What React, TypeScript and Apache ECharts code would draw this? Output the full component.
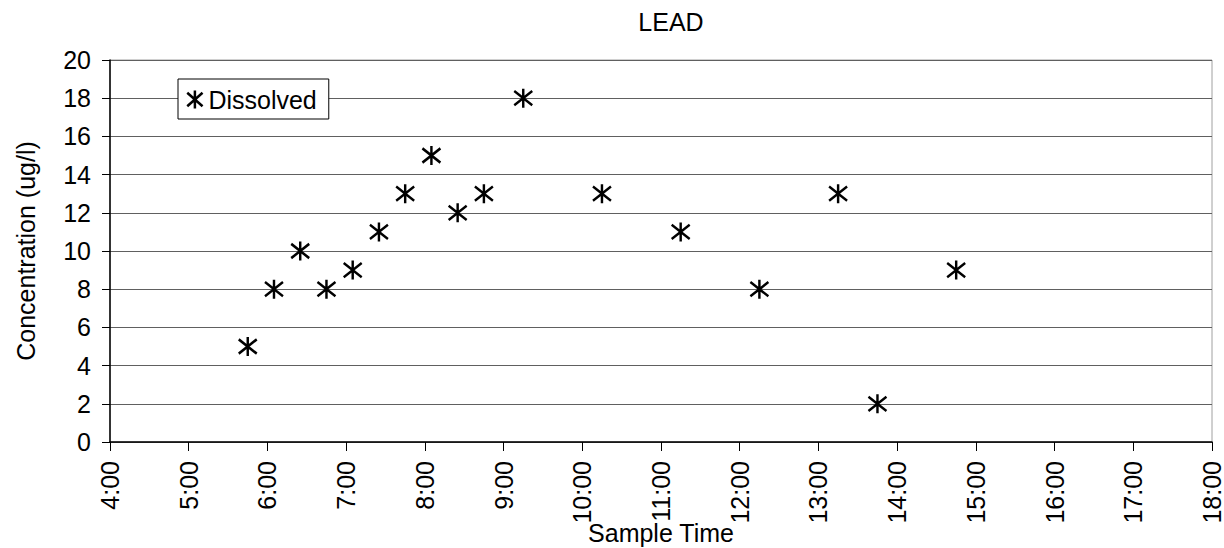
import React, { useEffect, useRef } from "react";
import * as echarts from "echarts";

const seriesName = "Dissolved";
// sample times as "H:MM"
const sampleTimes = ["5:45", "6:05", "6:25", "6:45", "7:05", "7:25", "7:45", "8:05", "8:25", "8:45", "9:15", "10:15", "11:15", "12:15", "13:15", "13:45", "14:45"];
const concentrations = [5, 8, 10, 8, 9, 11, 13, 15, 12, 13, 18, 13, 11, 8, 13, 2, 9];
const xTickHours = [4, 18];
const yRange = [0, 20];

const toHours = (t: string) => {
  const [h, m] = t.split(":").map(Number);
  return h + m / 60;
};

const ASTERISK = "path://M0,-1L0,1M-0.85,-0.75L0.85,0.75M-0.85,0.75L0.85,-0.75";

export default function App() {
  const ref = useRef<HTMLDivElement>(null);
  useEffect(() => {
    if (!ref.current) return;
    const chart = echarts.init(ref.current, undefined, { renderer: "svg" });
    const font = "Liberation Sans, Arial, sans-serif";
    chart.setOption({
      animation: false,
      backgroundColor: "#fff",
      textStyle: { fontFamily: font, color: "#000" },
      title: {
        text: "LEAD",
        left: 666,
        textAlign: "center",
        top: 4,
        textStyle: { fontFamily: font, fontSize: 25, fontWeight: "normal", color: "#000" },
      },
      legend: {
        left: 178,
        top: 79,
        orient: "vertical",
        backgroundColor: "#fff",
        borderColor: "#000",
        borderWidth: 1,
        borderRadius: 0,
        padding: [8, 12, 7, 8],
        itemWidth: 17,
        itemHeight: 18,
        itemGap: 4,
        icon: ASTERISK,
        itemStyle: { color: "transparent", borderColor: "#000", borderWidth: 2.5, opacity: 1 },
        textStyle: { fontFamily: font, fontSize: 25, color: "#000", padding: [0, 0, 0, 0] },
        data: [seriesName],
      },
      grid: {
        left: 110,
        right: 12,
        top: 60,
        bottom: 106,
        outerBoundsMode: "none",
        containLabel: false,
        show: true,
        borderColor: "#a0a0a0",
        borderWidth: 1,
        backgroundColor: "#fff",
      },
      xAxis: {
        type: "value",
        min: xTickHours[0],
        max: xTickHours[1],
        interval: 1,
        name: "Sample Time",
        nameLocation: "middle",
        nameGap: 78,
        nameMoveOverlap: false,
        nameTextStyle: { fontFamily: font, fontSize: 25, color: "#000" },
        axisLine: { show: true, onZero: false, lineStyle: { color: "#000", width: 1.5 } },
        axisTick: { show: true, inside: false, length: 9, lineStyle: { color: "#000" } },
        axisLabel: {
          rotate: 90,
          margin: 19,
          fontFamily: font,
          fontSize: 25,
          color: "#000",
          formatter: (v: number) => `${v}:00`,
        },
        splitLine: { show: false },
      },
      yAxis: {
        type: "value",
        min: yRange[0],
        max: yRange[1],
        interval: 2,
        name: "Concentration (ug/l)",
        nameLocation: "middle",
        nameGap: 72,
        nameMoveOverlap: false,
        nameTextStyle: { fontFamily: font, fontSize: 25, color: "#000" },
        axisLine: { show: true, lineStyle: { color: "#000", width: 1.5 } },
        axisTick: { show: true, inside: false, length: 8, lineStyle: { color: "#000" } },
        axisLabel: { margin: 19, fontFamily: font, fontSize: 25, color: "#000" },
        splitLine: { show: true, lineStyle: { color: "#606060", width: 1 } },
      },
      series: [
        {
          name: seriesName,
          type: "scatter",
          symbol: ASTERISK,
          symbolSize: [18, 19],
          itemStyle: { color: "transparent", borderColor: "#000", borderWidth: 2.5, opacity: 1 },
          data: sampleTimes.map((t, i) => [toHours(t), concentrations[i]]),
        },
      ],
    });
    return () => chart.dispose();
  }, []);
  return <div ref={ref} style={{ width: 1224, height: 548, position: "absolute", left: 0, top: 0 }} />;
}
